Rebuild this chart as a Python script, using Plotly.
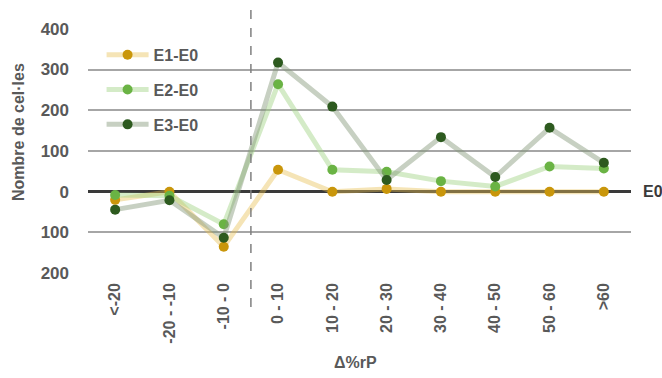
import plotly.graph_objects as go

categories = ["<-20", "-20 - -10", "-10 - 0", "0 - 10", "10 - 20", "20 - 30",
              "30 - 40", "40 - 50", "50 - 60", ">60"]
e1_e0 = [-20, 0, -135, 54, 0, 7, 0, 0, 0, 0]
e2_e0 = [-8, -10, -80, 264, 54, 49, 26, 13, 62, 57]
e3_e0 = [-44, -21, -113, 317, 209, 29, 134, 36, 157, 71]
y_tickvals = [-200, -100, 0, 100, 200, 300, 400]
y_ticktext = ["200", "100", "0", "100", "200", "300", "400"]

FONT = "Liberation Sans, Arial, sans-serif"
TXT = "#595959"

series = [
    ("E1-E0", e1_e0, "rgba(232,190,80,0.42)", "#C9960B"),
    ("E2-E0", e2_e0, "rgba(160,210,130,0.45)", "#6AB344"),
    ("E3-E0", e3_e0, "rgba(130,150,120,0.45)", "#2D5A1F"),
]

fig = go.Figure()
for name, vals, lc, mc in series:
    fig.add_trace(go.Scatter(
        x=categories, y=vals, name=name, mode="lines+markers",
        line=dict(color=lc, width=5),
        marker=dict(color=mc, size=10),
        legendgroup=name,
    ))

fig.update_layout(
    width=662, height=378,
    margin=dict(l=88, r=31, t=28, b=104),
    plot_bgcolor="white", paper_bgcolor="white",
    font=dict(family=FONT, color=TXT, size=16),
    showlegend=True,
    legend=dict(x=0.025, y=0.96, xanchor="left", yanchor="top",
                bgcolor="rgba(0,0,0,0)", tracegroupgap=11, itemwidth=42,
                font=dict(family=FONT, size=16, color=TXT, weight="bold")),
    xaxis=dict(type="category", range=[-0.5, 9.5], showgrid=False,
               zeroline=False, showline=False, ticks="",
               tickangle=-90, ticklabelstandoff=5,
               tickfont=dict(family=FONT, size=16, color=TXT, weight="bold")),
    yaxis=dict(range=[-202, 402], tickvals=y_tickvals, ticktext=y_ticktext,
               showgrid=True, gridcolor="#A6A6A6", gridwidth=1.5,
               zeroline=True, zerolinecolor="#3A3A3A", zerolinewidth=3,
               showline=False, ticks="", ticklabelstandoff=18,
               tickfont=dict(family=FONT, size=17, color=TXT, weight="bold")),
)

fig.add_shape(type="line", xref="x", yref="paper", x0=2.5, x1=2.5,
              y0=-0.134, y1=1.081, line=dict(color="#808080", width=1.5, dash="dash"))

fig.add_annotation(text="Nombre de cel·les", xref="paper", yref="paper",
                   x=-0.129, y=0.577, xanchor="center", yanchor="middle",
                   textangle=-90, showarrow=False,
                   font=dict(family=FONT, size=16, color=TXT, weight="bold"))
fig.add_annotation(text="Δ%rP", xref="paper", yref="paper",
                   x=0.492, y=-0.358, xanchor="center", yanchor="middle",
                   showarrow=False,
                   font=dict(family=FONT, size=16, color=TXT, weight="bold"))
fig.add_annotation(text="E0", xref="paper", yref="y", x=1.018, y=0,
                   xanchor="left", showarrow=False,
                   font=dict(family=FONT, size=16, color="#3A3A3A", weight="bold"))

fig.write_html("out.html", config={"displayModeBar": False},
               post_script="document.body.style.margin='0';")
